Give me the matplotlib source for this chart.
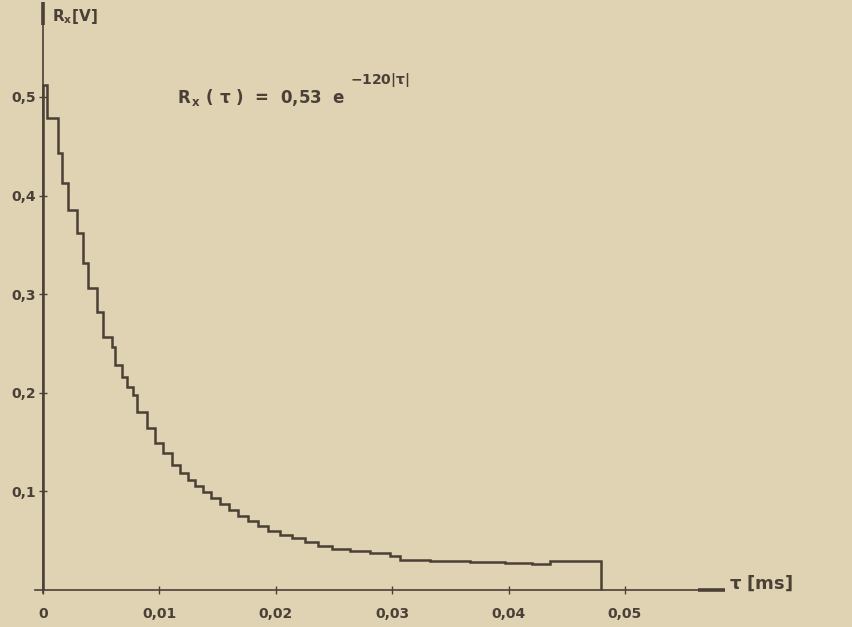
import matplotlib
matplotlib.use("Agg")
import matplotlib.pyplot as plt

# stufen der korrelationsfunktion
tau_edges = [0, 0.00034, 0.00129, 0.00163, 0.00215, 0.00292, 0.00344, 0.00387,
             0.00464, 0.00515, 0.00593, 0.00619, 0.00679, 0.00722, 0.00773,
             0.00808, 0.00893, 0.00962, 0.01031, 0.01108, 0.01177, 0.01246,
             0.01306, 0.01375, 0.01443, 0.01521, 0.01598, 0.01675, 0.01761,
             0.01847, 0.01933, 0.02036, 0.02139, 0.02251, 0.02363, 0.02483,
             0.02637, 0.02809, 0.02981, 0.03067, 0.03325, 0.03668, 0.03969,
             0.04201, 0.04356, 0.04794]
rx_levels = [0.512, 0.479, 0.443, 0.413, 0.385, 0.362, 0.332, 0.306, 0.282, 0.257,
             0.246, 0.228, 0.216, 0.206, 0.198, 0.181, 0.164, 0.149, 0.139, 0.127,
             0.119, 0.112, 0.105, 0.099, 0.093, 0.087, 0.081, 0.075, 0.070, 0.065,
             0.060, 0.056, 0.053, 0.049, 0.045, 0.042, 0.040, 0.038, 0.034, 0.030,
             0.029, 0.028, 0.027, 0.026, 0.029]

x_ticks = [0, 0.01, 0.02, 0.03, 0.04, 0.05]
x_labels = ["0", "0,01", "0,02", "0,03", "0,04", "0,05"]
y_ticks = [0.1, 0.2, 0.3, 0.4, 0.5]
y_labels = ["0,1", "0,2", "0,3", "0,4", "0,5"]

paper = "#e0d3b4"
ink = "#4a4035"

plt.rcParams["mathtext.default"] = "regular"

fig = plt.figure(figsize=(8.52, 6.27), dpi=100, facecolor=paper)
ax = fig.add_axes([0, 0, 1, 1])
ax.set_facecolor(paper)

# pixel -> daten: 11640 px je ms-einheit, 986 px je Volt
sx, sy = 11640.0, 986.0
ax.set_xlim(-43 / sx, 809 / sx)
ax.set_ylim(-37 / sy, 590 / sy)

ax.stairs(rx_levels, tau_edges, baseline=0, color=ink, lw=1.8)

for s in ["top", "right"]:
    ax.spines[s].set_visible(False)
ax.spines["left"].set_position("zero")
ax.spines["bottom"].set_position("zero")
ax.spines["left"].set_bounds(-3 / sy, 585 / sy)
ax.spines["bottom"].set_bounds(-8 / sx, 680 / sx)
for s in ["left", "bottom"]:
    ax.spines[s].set_color(ink)
    ax.spines[s].set_linewidth(1.2)

# dicke enden der achsen
ax.plot([0, 0], [565 / sy, 588 / sy], color=ink, lw=2.6, solid_capstyle="butt")
ax.plot([655 / sx, 682 / sx], [0, 0], color=ink, lw=2.6, solid_capstyle="butt")

ax.set_xticks(x_ticks)
ax.set_xticklabels(x_labels)
ax.set_yticks(y_ticks)
ax.set_yticklabels(y_labels)
ax.tick_params(axis="both", direction="inout", length=6, width=1, colors=ink,
               labelsize=10)
ax.tick_params(axis="x", pad=9)
ax.tick_params(axis="y", pad=2)
for lab in ax.get_xticklabels() + ax.get_yticklabels():
    lab.set_fontweight("bold")

ax.text(9 / sx, 573 / sy, r"R$_x$[V]", color=ink, fontsize=11, fontweight="bold",
        ha="left", va="center")
ax.text(134 / sx, 492 / sy, r"R$_{\,x}$ ( $\tau$ )  =  0,53  e", color=ink,
        fontsize=12, fontweight="bold", ha="left", va="center")
ax.text(307 / sx, 510 / sy, r"$-120|\tau|$", color=ink, fontsize=10,
        fontweight="bold", ha="left", va="center")
ax.text(686 / sx, 7 / sy, r"$\tau$ [ms]", color=ink, fontsize=13,
        fontweight="bold", ha="left", va="center")

fig.savefig("out.png", dpi=100, facecolor=paper)
